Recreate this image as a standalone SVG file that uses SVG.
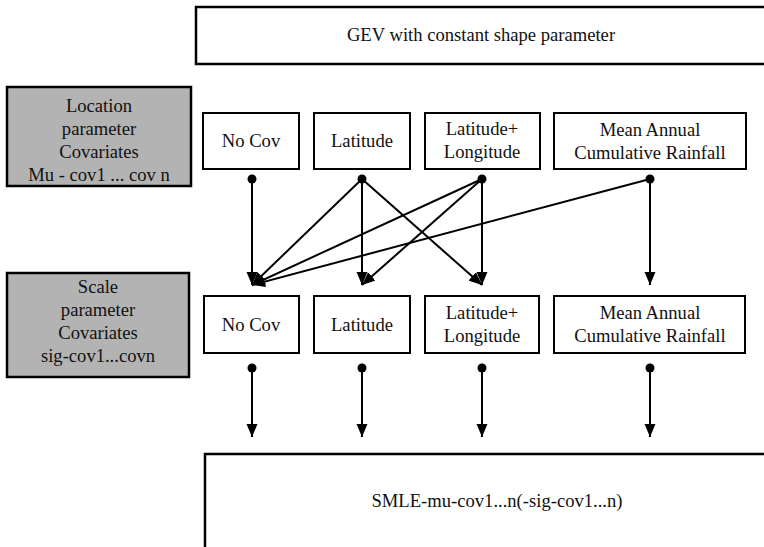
<svg xmlns="http://www.w3.org/2000/svg" width="764" height="547" viewBox="0 0 764 547">
<style>
  text { font-family: 'Liberation Serif', 'Times New Roman', Times, 'DejaVu Serif', serif; font-size: 18.6px; fill: #111; text-anchor: middle; }
  .box { fill: #fff; stroke: #000; stroke-width: 2; }
  .big { fill: #fff; stroke: #000; stroke-width: 2.5; }
  .grey { fill: #b3b3b3; stroke: #000; stroke-width: 2.5; }
  .edge { stroke: #000; stroke-width: 2; fill: none; marker-end: url(#arrow); }
  .dot { fill: #000; }
</style>
<defs>
  <marker id="arrow" markerUnits="userSpaceOnUse" markerWidth="14" markerHeight="12" refX="13" refY="6" orient="auto">
    <path d="M0,0.5 L13,6 L0,11.5 Z" fill="#000"/>
  </marker>
</defs>
<rect width="764" height="547" fill="#fff"/>

<g id="gev">
  <rect class="big" x="196" y="7" width="580" height="57"/>
  <text x="481" y="41">GEV with constant shape parameter</text>
</g>

<g id="loc-label">
  <rect class="grey" x="7" y="87" width="184" height="99"/>
  <text x="99" y="112">Location</text>
  <text x="99" y="135">parameter</text>
  <text x="99" y="158">Covariates</text>
  <text x="99" y="181">Mu - cov1 ... cov n</text>
</g>

<g id="scale-label">
  <rect class="grey" x="7" y="273" width="182" height="104"/>
  <text x="98" y="293">Scale</text>
  <text x="98" y="316">parameter</text>
  <text x="98" y="339">Covariates</text>
  <text x="98" y="362">sig-cov1...covn</text>
</g>

<g id="mu-nocov">
  <rect class="box" x="203" y="113" width="96" height="56"/>
  <text x="251" y="147">No Cov</text>
</g>
<g id="mu-lat">
  <rect class="box" x="314" y="113" width="96" height="56"/>
  <text x="362" y="147">Latitude</text>
</g>
<g id="mu-latlon">
  <rect class="box" x="425" y="113" width="115" height="56"/>
  <text x="482" y="135">Latitude+</text>
  <text x="482" y="158">Longitude</text>
</g>
<g id="mu-rain">
  <rect class="box" x="554" y="113" width="192" height="56"/>
  <text x="650" y="136">Mean Annual</text>
  <text x="650" y="159">Cumulative Rainfall</text>
</g>

<g id="sig-nocov">
  <rect class="box" x="204" y="296" width="95" height="57"/>
  <text x="251" y="331">No Cov</text>
</g>
<g id="sig-lat">
  <rect class="box" x="314" y="296" width="96" height="57"/>
  <text x="362" y="331">Latitude</text>
</g>
<g id="sig-latlon">
  <rect class="box" x="425" y="296" width="114" height="57"/>
  <text x="482" y="319">Latitude+</text>
  <text x="482" y="342">Longitude</text>
</g>
<g id="sig-rain">
  <rect class="box" x="554" y="296" width="191" height="57"/>
  <text x="650" y="319">Mean Annual</text>
  <text x="650" y="342">Cumulative Rainfall</text>
</g>

<g id="smle">
  <rect class="big" x="205" y="454" width="580" height="110"/>
  <text x="497" y="507">SMLE-mu-cov1...n(-sig-cov1...n)</text>
</g>

<g id="connectors">
  <line class="edge" x1="252" y1="179" x2="252" y2="285"/>
  <line class="edge" x1="362" y1="179" x2="252" y2="285"/>
  <line class="edge" x1="362" y1="179" x2="362" y2="285"/>
  <line class="edge" x1="362" y1="179" x2="482" y2="285"/>
  <line class="edge" x1="482" y1="179" x2="252" y2="285"/>
  <line class="edge" x1="482" y1="179" x2="362" y2="285"/>
  <line class="edge" x1="482" y1="179" x2="482" y2="285"/>
  <line class="edge" x1="650" y1="179" x2="252" y2="285"/>
  <line class="edge" x1="650" y1="179" x2="650" y2="285"/>
  <circle class="dot" cx="252" cy="179" r="4.5"/>
  <circle class="dot" cx="362" cy="179" r="4.5"/>
  <circle class="dot" cx="482" cy="179" r="4.5"/>
  <circle class="dot" cx="650" cy="179" r="4.5"/>

  <line class="edge" x1="252" y1="368" x2="252" y2="437"/>
  <line class="edge" x1="362" y1="368" x2="362" y2="437"/>
  <line class="edge" x1="482" y1="368" x2="482" y2="437"/>
  <line class="edge" x1="650" y1="368" x2="650" y2="437"/>
  <circle class="dot" cx="252" cy="368" r="4.5"/>
  <circle class="dot" cx="362" cy="368" r="4.5"/>
  <circle class="dot" cx="482" cy="368" r="4.5"/>
  <circle class="dot" cx="650" cy="368" r="4.5"/>
</g>
</svg>
